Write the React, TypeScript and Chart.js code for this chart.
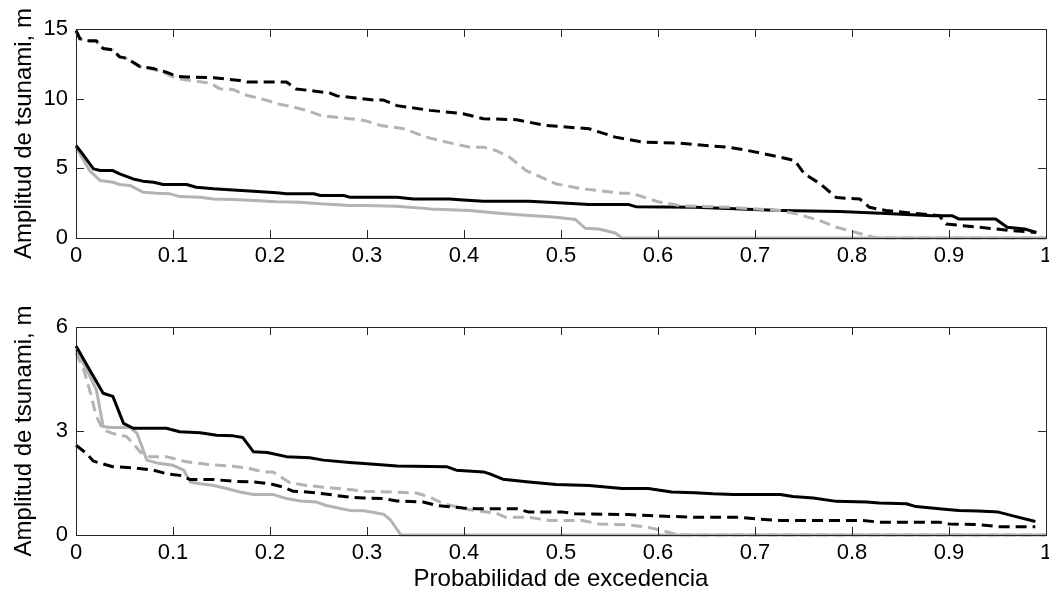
import React, { useEffect, useRef } from 'react';
import { Chart, registerables } from 'chart.js';

Chart.register(...registerables);

const FONT = '"Liberation Sans", Arial, Helvetica, sans-serif';
const BLACK = '#000000';
const GREY = '#b3b3b3';
const AXIS = '#262626';

// Tick values and labels
const xTickValues = [0, 0.1, 0.2, 0.3, 0.4, 0.5, 0.6, 0.7, 0.8, 0.9, 1];
const xTickLabels = ['0', '0.1', '0.2', '0.3', '0.4', '0.5', '0.6', '0.7', '0.8', '0.9', '1'];
const topYTickValues = [0, 5, 10, 15];
const topYTickLabels = ['0', '5', '10', '15'];
const bottomYTickValues = [0, 3, 6];
const bottomYTickLabels = ['0', '3', '6'];
const yTitle = 'Amplitud de tsunami, m';
const xTitle = 'Probabilidad de excedencia';

// ---- Top panel ----
const topBlackDashX = [0, 0.004, 0.014, 0.021, 0.028, 0.038, 0.045, 0.052, 0.066, 0.08, 0.093, 0.104, 0.114, 0.142, 0.169, 0.176, 0.217, 0.227, 0.245, 0.262, 0.269, 0.282, 0.307, 0.317, 0.331, 0.365, 0.399, 0.42, 0.454, 0.484, 0.529, 0.556, 0.584, 0.623, 0.674, 0.691, 0.726, 0.741, 0.751, 0.767, 0.784, 0.808, 0.818, 0.835, 0.89, 0.897, 0.931, 0.965, 0.99];
const topBlackDashY = [14.9, 14.3, 14.15, 14.15, 13.6, 13.5, 13.0, 12.9, 12.3, 12.16, 11.9, 11.6, 11.56, 11.5, 11.3, 11.2, 11.2, 10.7, 10.55, 10.4, 10.2, 10.1, 9.9, 9.9, 9.5, 9.16, 8.92, 8.56, 8.49, 8.08, 7.84, 7.24, 6.88, 6.8, 6.5, 6.3, 5.8, 5.55, 4.6, 3.9, 2.9, 2.8, 2.2, 1.97, 1.6, 1.0, 0.77, 0.53, 0.4];

const topGreyDashX = [0, 0.004, 0.014, 0.021, 0.028, 0.038, 0.045, 0.052, 0.066, 0.08, 0.093, 0.104, 0.121, 0.138, 0.148, 0.162, 0.176, 0.197, 0.207, 0.224, 0.238, 0.252, 0.282, 0.297, 0.314, 0.338, 0.361, 0.382, 0.406, 0.42, 0.433, 0.447, 0.464, 0.495, 0.522, 0.563, 0.573, 0.6, 0.625, 0.674, 0.726, 0.743, 0.767, 0.784, 0.804, 0.82, 0.828, 1.0];
const topGreyDashY = [14.8, 14.3, 14.1, 14.1, 13.6, 13.5, 13.0, 12.9, 12.3, 12.1, 11.8, 11.44, 11.27, 11.13, 10.72, 10.65, 10.24, 9.88, 9.64, 9.4, 9.16, 8.8, 8.56, 8.44, 8.08, 7.84, 7.24, 6.88, 6.52, 6.52, 6.28, 5.8, 4.84, 3.88, 3.53, 3.21, 3.21, 2.6, 2.3, 2.2, 1.97, 1.73, 1.25, 0.77, 0.4, 0.1, 0, 0];

const topBlackSolidX = [0, 0.008, 0.018, 0.025, 0.038, 0.045, 0.059, 0.069, 0.08, 0.09, 0.114, 0.124, 0.142, 0.162, 0.183, 0.207, 0.217, 0.245, 0.252, 0.276, 0.282, 0.331, 0.348, 0.385, 0.399, 0.42, 0.467, 0.502, 0.529, 0.57, 0.577, 0.638, 0.726, 0.787, 0.83, 0.883, 0.903, 0.91, 0.948, 0.96, 0.978, 0.99];
const topBlackSolidY = [6.64, 5.92, 4.96, 4.84, 4.84, 4.6, 4.24, 4.08, 4.0, 3.84, 3.84, 3.64, 3.53, 3.45, 3.36, 3.24, 3.17, 3.17, 3.05, 3.05, 2.93, 2.93, 2.8, 2.8, 2.73, 2.64, 2.64, 2.52, 2.4, 2.4, 2.25, 2.2, 1.97, 1.9, 1.77, 1.6, 1.6, 1.37, 1.37, 0.77, 0.65, 0.4];

const topGreySolidX = [0, 0.008, 0.014, 0.025, 0.038, 0.045, 0.056, 0.069, 0.083, 0.097, 0.107, 0.128, 0.142, 0.162, 0.183, 0.207, 0.231, 0.252, 0.282, 0.297, 0.331, 0.365, 0.406, 0.433, 0.46, 0.495, 0.515, 0.525, 0.539, 0.556, 0.563, 1.0];
const topGreySolidY = [6.52, 5.56, 4.84, 4.12, 4.0, 3.84, 3.76, 3.29, 3.21, 3.17, 2.97, 2.93, 2.8, 2.76, 2.69, 2.61, 2.57, 2.45, 2.33, 2.33, 2.28, 2.09, 1.97, 1.8, 1.65, 1.49, 1.32, 0.7, 0.65, 0.36, 0, 0];

// ---- Bottom panel ----
const botBlackSolidX = [0, 0.014, 0.028, 0.038, 0.049, 0.059, 0.093, 0.107, 0.128, 0.145, 0.162, 0.172, 0.183, 0.197, 0.217, 0.241, 0.255, 0.282, 0.297, 0.331, 0.382, 0.392, 0.42, 0.426, 0.44, 0.467, 0.495, 0.529, 0.563, 0.59, 0.614, 0.638, 0.657, 0.678, 0.726, 0.739, 0.76, 0.784, 0.815, 0.828, 0.856, 0.866, 0.89, 0.91, 0.93, 0.951, 0.965, 0.989];
const botBlackSolidY = [5.45, 4.77, 4.09, 4.0, 3.22, 3.08, 3.08, 2.98, 2.95, 2.88, 2.86, 2.81, 2.4, 2.38, 2.26, 2.23, 2.16, 2.09, 2.06, 1.99, 1.97, 1.87, 1.82, 1.77, 1.61, 1.53, 1.46, 1.43, 1.34, 1.34, 1.24, 1.22, 1.19, 1.17, 1.17, 1.11, 1.07, 0.97, 0.95, 0.92, 0.9, 0.82, 0.76, 0.71, 0.69, 0.66, 0.56, 0.39];

const botBlackDashX = [0, 0.011, 0.018, 0.038, 0.059, 0.08, 0.093, 0.107, 0.118, 0.142, 0.162, 0.183, 0.2, 0.214, 0.224, 0.238, 0.255, 0.282, 0.297, 0.317, 0.331, 0.358, 0.372, 0.399, 0.413, 0.454, 0.467, 0.502, 0.515, 0.57, 0.59, 0.638, 0.685, 0.702, 0.726, 0.811, 0.828, 0.89, 0.9, 0.93, 0.951, 0.989];
const botBlackDashY = [2.59, 2.35, 2.13, 1.97, 1.94, 1.87, 1.77, 1.72, 1.6, 1.6, 1.55, 1.53, 1.48, 1.38, 1.26, 1.24, 1.19, 1.09, 1.07, 1.05, 0.98, 0.95, 0.85, 0.78, 0.76, 0.76, 0.66, 0.66, 0.61, 0.59, 0.56, 0.51, 0.51, 0.46, 0.42, 0.42, 0.37, 0.37, 0.32, 0.3, 0.24, 0.24];

const botGreyDashX = [0, 0.008, 0.014, 0.021, 0.028, 0.038, 0.052, 0.059, 0.066, 0.076, 0.093, 0.114, 0.135, 0.162, 0.179, 0.193, 0.203, 0.221, 0.238, 0.255, 0.282, 0.297, 0.324, 0.351, 0.365, 0.379, 0.406, 0.433, 0.443, 0.467, 0.488, 0.522, 0.539, 0.57, 0.59, 0.604, 0.621, 1.0];
const botGreyDashY = [5.26, 4.77, 4.19, 3.42, 3.03, 2.93, 2.84, 2.64, 2.4, 2.26, 2.26, 2.11, 2.04, 1.98, 1.92, 1.82, 1.82, 1.5, 1.43, 1.38, 1.31, 1.26, 1.24, 1.21, 1.09, 0.9, 0.73, 0.63, 0.51, 0.51, 0.42, 0.42, 0.32, 0.29, 0.22, 0.13, 0, 0];

const botGreySolidX = [0, 0.011, 0.021, 0.028, 0.035, 0.056, 0.063, 0.073, 0.083, 0.1, 0.111, 0.118, 0.128, 0.142, 0.155, 0.169, 0.183, 0.203, 0.217, 0.231, 0.248, 0.258, 0.282, 0.297, 0.317, 0.324, 0.335, 1.0];
const botGreySolidY = [5.35, 4.77, 4.19, 3.13, 3.1, 3.1, 2.93, 2.16, 2.08, 2.01, 1.87, 1.53, 1.48, 1.43, 1.34, 1.24, 1.17, 1.17, 1.05, 0.98, 0.95, 0.85, 0.71, 0.7, 0.6, 0.44, 0, 0];

const CANVAS_W = 1060;
const AREA_LEFT = 76;
const AREA_RIGHT = 1046;

function pts(xs: number[], ys: number[]) {
  return xs.map((x, i) => ({ x, y: ys[i] }));
}

function ds(xs: number[], ys: number[], color: string, dashed: boolean) {
  return {
    data: pts(xs, ys),
    borderColor: color,
    backgroundColor: color,
    borderWidth: 3,
    borderDash: dashed ? [11, 6] : [],
    pointRadius: 0,
    pointHoverRadius: 0,
    fill: false,
    tension: 0,
    clip: false,
    borderJoinStyle: 'round',
  };
}

const matlabAxes = {
  id: 'matlabAxes',
  afterDatasetsDraw(chart: any) {
    const { ctx, chartArea: a, scales } = chart;
    const tl = 8;
    ctx.save();
    ctx.strokeStyle = AXIS;
    ctx.lineWidth = 1;
    ctx.setLineDash([]);
    ctx.beginPath();
    scales.x.ticks.forEach((_t: any, i: number) => {
      const px = Math.round(scales.x.getPixelForTick(i)) + 0.5;
      ctx.moveTo(px, a.bottom);
      ctx.lineTo(px, a.bottom - tl);
      ctx.moveTo(px, a.top);
      ctx.lineTo(px, a.top + tl);
    });
    scales.y.ticks.forEach((_t: any, i: number) => {
      const py = Math.round(scales.y.getPixelForTick(i)) + 0.5;
      ctx.moveTo(a.left, py);
      ctx.lineTo(a.left + tl, py);
      ctx.moveTo(a.right, py);
      ctx.lineTo(a.right - tl, py);
    });
    ctx.stroke();
    ctx.strokeRect(Math.round(a.left) + 0.5, Math.round(a.top) + 0.5, Math.round(a.right - a.left), Math.round(a.bottom - a.top));
    ctx.restore();
  },
};

function makeConfig(p: {
  datasets: any[];
  yMax: number;
  yTicks: number[];
  yLabels: string[];
  showXTitle: boolean;
  padTop: number;
  xHeight: number;
}): any {
  return {
    type: 'line',
    data: { datasets: p.datasets },
    plugins: [matlabAxes],
    options: {
      animation: false,
      responsive: false,
      events: [],
      layout: { padding: { top: p.padTop, left: 0, right: CANVAS_W - AREA_RIGHT, bottom: 0 } },
      plugins: { legend: { display: false }, tooltip: { enabled: false } },
      scales: {
        x: {
          type: 'linear',
          min: 0,
          max: 1,
          afterBuildTicks: (s: any) => {
            s.ticks = xTickValues.map((value) => ({ value }));
          },
          afterFit: (s: any) => {
            s.height = p.xHeight;
          },
          grid: { display: false, drawTicks: false },
          border: { display: false },
          ticks: {
            autoSkip: false,
            maxRotation: 0,
            padding: 5,
            color: '#000',
            font: { family: FONT, size: 22 },
            callback: (_v: any, i: number) => xTickLabels[i],
          },
          title: {
            display: p.showXTitle,
            text: xTitle,
            color: '#000',
            font: { family: FONT, size: 24 },
            padding: { top: 0, bottom: 2 },
          },
        },
        y: {
          type: 'linear',
          min: 0,
          max: p.yMax,
          afterBuildTicks: (s: any) => {
            s.ticks = p.yTicks.map((value) => ({ value }));
          },
          afterFit: (s: any) => {
            s.width = AREA_LEFT;
          },
          grid: { display: false, drawTicks: false },
          border: { display: false },
          ticks: {
            autoSkip: false,
            padding: 8,
            color: '#000',
            font: { family: FONT, size: 22 },
            callback: (_v: any, i: number) => p.yLabels[i],
          },
          title: {
            display: true,
            text: yTitle,
            color: '#000',
            font: { family: FONT, size: 24 },
            padding: { top: 10, bottom: 0 },
          },
        },
      },
    },
  };
}

export default function App() {
  const topRef = useRef<HTMLCanvasElement | null>(null);
  const botRef = useRef<HTMLCanvasElement | null>(null);

  useEffect(() => {
    const top = new Chart(
      topRef.current as HTMLCanvasElement,
      makeConfig({
        datasets: [
          ds(topBlackDashX, topBlackDashY, BLACK, true),
          ds(topGreyDashX, topGreyDashY, GREY, true),
          ds(topBlackSolidX, topBlackSolidY, BLACK, false),
          ds(topGreySolidX, topGreySolidY, GREY, false),
        ],
        yMax: 15,
        yTicks: topYTickValues,
        yLabels: topYTickLabels,
        showXTitle: false,
        padTop: 29,
        xHeight: 62,
      })
    );
    const bot = new Chart(
      botRef.current as HTMLCanvasElement,
      makeConfig({
        datasets: [
          ds(botBlackDashX, botBlackDashY, BLACK, true),
          ds(botGreyDashX, botGreyDashY, GREY, true),
          ds(botBlackSolidX, botBlackSolidY, BLACK, false),
          ds(botGreySolidX, botGreySolidY, GREY, false),
        ],
        yMax: 6,
        yTicks: bottomYTickValues,
        yLabels: bottomYTickLabels,
        showXTitle: true,
        padTop: 27,
        xHeight: 61,
      })
    );
    return () => {
      top.destroy();
      bot.destroy();
    };
  }, []);

  return (
    <div
      style={{
        position: 'fixed',
        left: 0,
        top: 0,
        width: 1049,
        height: 596,
        overflow: 'hidden',
        background: '#fff',
      }}
    >
      <canvas
        ref={topRef}
        width={CANVAS_W}
        height={300}
        style={{ position: 'absolute', left: 0, top: 0, display: 'block' }}
      />
      <canvas
        ref={botRef}
        width={CANVAS_W}
        height={296}
        style={{ position: 'absolute', left: 0, top: 300, display: 'block' }}
      />
    </div>
  );
}
